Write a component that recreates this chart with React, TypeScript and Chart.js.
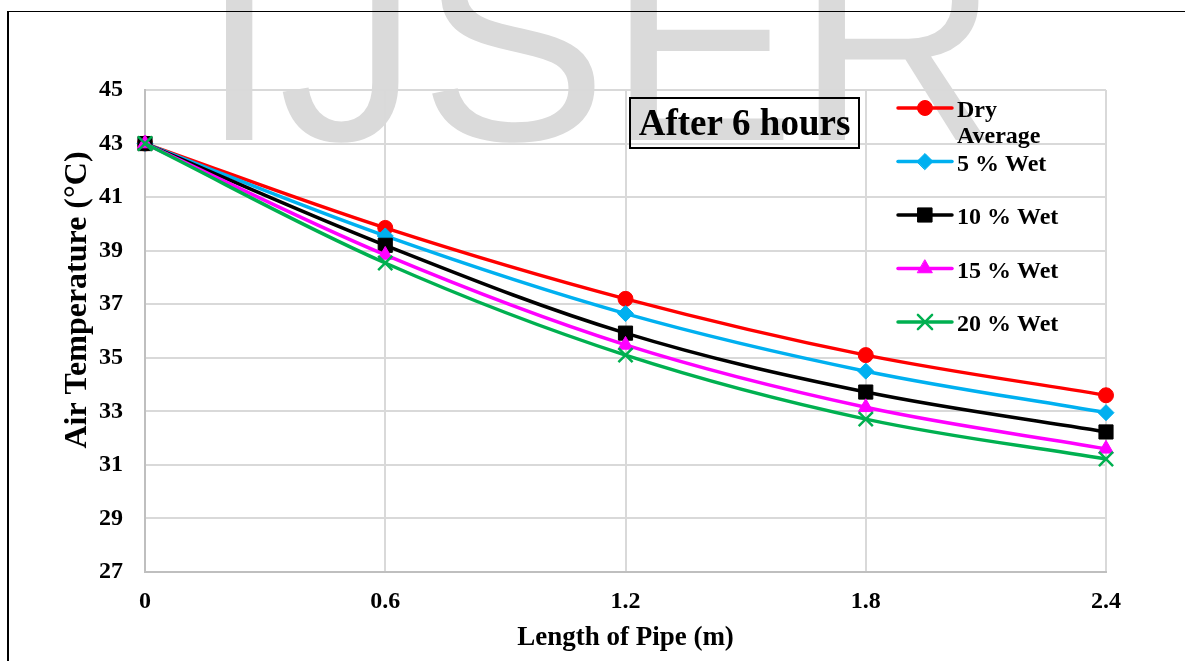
import React, { useEffect, useRef } from 'react';
import { Chart, registerables } from 'chart.js';
import { drawPoint } from 'chart.js/helpers';

Chart.register(...registerables);

// ---------- data ----------
const xLabels = ['0', '0.6', '1.2', '1.8', '2.4'];
const dryAverage = [43, 39.85, 37.2, 35.1, 33.6];
const wet5 = [43, 39.55, 36.65, 34.5, 32.95];
const wet10 = [43, 39.2, 35.92, 33.72, 32.23];
const wet15 = [43, 38.84, 35.48, 33.15, 31.6];
const wet20 = [43, 38.54, 35.1, 32.71, 31.22];
const seriesLabels = [['Dry', 'Average'], ['5 % Wet'], ['10 % Wet'], ['15 % Wet'], ['20 % Wet']];
const yMin = 27;
const yMax = 45;
const yStep = 2;
const chartTitle = 'After 6 hours';
const xTitle = 'Length of Pipe (m)';
const yTitle = 'Air Temperature (°C)';

const SERIF = '"Liberation Serif", "Times New Roman", serif';

const titleBoxPlugin = {
  id: 'titleBox',
  afterDatasetsDraw(chart: any) {
    const ctx = chart.ctx as CanvasRenderingContext2D;
    ctx.save();
    ctx.strokeStyle = '#000';
    ctx.lineWidth = 2;
    ctx.strokeRect(630, 98, 229, 50);
    ctx.fillStyle = '#000';
    ctx.font = `bold 37px ${SERIF}`;
    ctx.textAlign = 'center';
    ctx.textBaseline = 'middle';
    ctx.fillText(chartTitle, 744.5, 125);
    ctx.restore();
  },
};

const yTitlePlugin = {
  id: 'yTitle',
  afterDraw(chart: any) {
    const ctx = chart.ctx as CanvasRenderingContext2D;
    ctx.save();
    ctx.translate(78, 300);
    ctx.rotate(-Math.PI / 2);
    ctx.fillStyle = '#000';
    ctx.font = `bold 32px ${SERIF}`;
    ctx.textAlign = 'center';
    ctx.textBaseline = 'middle';
    ctx.fillText(yTitle, 0, 0);
    ctx.restore();
  },
};

const legendPlugin = {
  id: 'insideLegend',
  afterDatasetsDraw(chart: any) {
    const ctx = chart.ctx as CanvasRenderingContext2D;
    const x0 = 898;
    const x1 = 952;
    const tx = 957;
    const yStart = 108;
    const gap = 53.5;
    ctx.save();
    chart.data.datasets.forEach((ds: any, i: number) => {
      const y = yStart + gap * i;
      ctx.strokeStyle = ds.borderColor;
      ctx.lineWidth = ds.borderWidth;
      ctx.lineCap = 'round';
      ctx.beginPath();
      ctx.moveTo(x0, y);
      ctx.lineTo(x1, y);
      ctx.stroke();
      ctx.fillStyle = ds.pointBackgroundColor;
      ctx.strokeStyle = ds.pointBorderColor;
      ctx.lineWidth = ds.pointBorderWidth;
      drawPoint(ctx, { pointStyle: ds.pointStyle, radius: ds.pointRadius, rotation: 0, borderWidth: ds.pointBorderWidth } as any, (x0 + x1) / 2, y);
      ctx.fillStyle = '#000';
      ctx.font = `bold 24px ${SERIF}`;
      ctx.textAlign = 'left';
      ctx.textBaseline = 'middle';
      const lines: string[] = seriesLabels[i];
      lines.forEach((t, k) => ctx.fillText(t, tx, y + 3 + k * 26));
    });
    ctx.restore();
  },
};

function series(label: string, data: number[], color: string, style: string, radius: number, order: number, pbw = 1) {
  return {
    label,
    data,
    borderColor: color,
    backgroundColor: color,
    borderWidth: 3.5,
    tension: 0.35,
    pointStyle: style,
    pointRadius: radius,
    pointHoverRadius: radius,
    pointBackgroundColor: color,
    pointBorderColor: color,
    pointBorderWidth: pbw,
    clip: false,
    order,
  };
}

export default function App() {
  const ref = useRef<HTMLCanvasElement>(null);
  useEffect(() => {
    const tickFont = { family: SERIF, size: 24, weight: 'bold' as const };
    const chart = new Chart(ref.current!, {
      type: 'line',
      data: {
        labels: xLabels,
        datasets: [
          series('Dry Average', dryAverage, '#ff0000', 'circle', 7.5, 5),
          series('5 % Wet', wet5, '#00b0f0', 'rectRot', 8, 4),
          series('10 % Wet', wet10, '#000000', 'rect', 10, 3),
          series('15 % Wet', wet15, '#ff00ff', 'triangle', 8.5, 2),
          series('20 % Wet', wet20, '#00b050', 'crossRot', 10, 1, 2.5),
        ] as any,
      },
      options: {
        responsive: false,
        animation: false,
        events: [],
        layout: { padding: { left: 0, right: 79, top: 90, bottom: 0 } },
        plugins: { legend: { display: false }, title: { display: false }, tooltip: { enabled: false } },
        scales: {
          x: {
            type: 'category',
            offset: false,
            grid: { color: '#d9d9d9', lineWidth: 2, drawTicks: false },
            border: { color: '#bfbfbf', width: 2 },
            ticks: { color: '#000', font: tickFont, padding: 15, maxRotation: 0, autoSkip: false },
            title: { display: true, text: xTitle, color: '#000', font: { family: SERIF, size: 27, weight: 'bold' }, padding: { top: 0, bottom: 7 } },
            afterFit: (s: any) => { s.height = 89; },
          },
          y: {
            min: yMin,
            max: yMax,
            grid: { color: '#d9d9d9', lineWidth: 2, drawTicks: false },
            border: { color: '#bfbfbf', width: 2 },
            ticks: { stepSize: yStep, color: '#000', font: tickFont, padding: 22 },
            title: { display: false },
            afterFit: (s: any) => { s.width = 145; },
          },
        },
      } as any,
      plugins: [titleBoxPlugin, legendPlugin, yTitlePlugin],
    });
    return () => chart.destroy();
  }, []);

  return (
    <div style={{ position: 'absolute', left: 0, top: 0, width: 1185, height: 661, overflow: 'hidden', background: '#fff' }}>
      <svg width={1185} height={661} style={{ position: 'absolute', left: 0, top: 0 }}>
        <text x={200} y={140} fontFamily='"Liberation Sans", Arial, sans-serif' fontSize={282} fill="#dadada">IJSER</text>
      </svg>
      <div style={{ position: 'absolute', left: 7, top: 11, width: 1300, height: 800, borderTop: '1px solid #000', borderLeft: '2px solid #000' }} />
      <canvas ref={ref} width={1185} height={661} style={{ position: 'absolute', left: 0, top: 0, display: 'block' }} />
    </div>
  );
}
